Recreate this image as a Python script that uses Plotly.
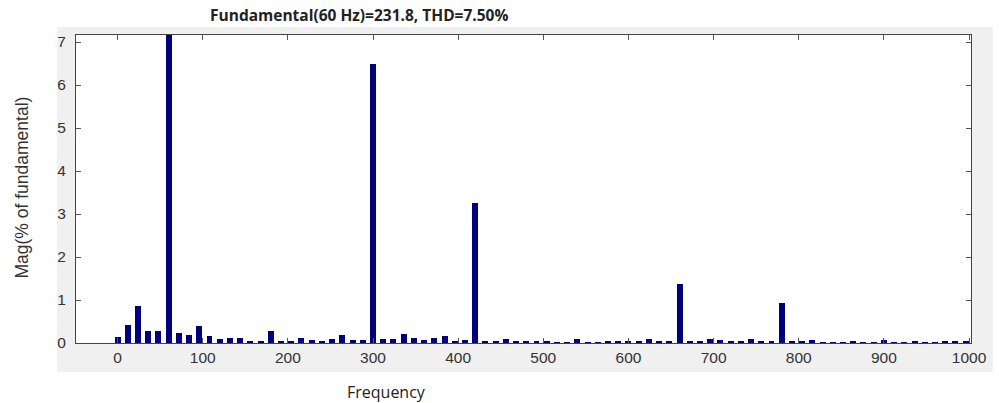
import plotly.graph_objects as go

freq_hz = [0, 12, 24, 36, 48, 60, 72, 84, 96, 108, 120, 132, 144, 156, 168, 180,
           192, 204, 216, 228, 240, 252, 264, 276, 288, 300, 312, 324, 336, 348,
           360, 372, 384, 396, 408, 420, 432, 444, 456, 468, 480, 492, 504, 516,
           528, 540, 552, 564, 576, 588, 600, 612, 624, 636, 648, 660, 672, 684,
           696, 708, 720, 732, 744, 756, 768, 780, 792, 804, 816, 828, 840, 852,
           864, 876, 888, 900, 912, 924, 936, 948, 960, 972, 984, 996]

mag_pct = [0.13, 0.43, 0.87, 0.27, 0.27, 100.0, 0.24, 0.19, 0.40, 0.17, 0.085, 0.12,
           0.12, 0.04, 0.03, 0.27, 0.04, 0.04, 0.12, 0.06, 0.03, 0.085, 0.18, 0.07,
           0.07, 6.50, 0.09, 0.085, 0.21, 0.12, 0.07, 0.12, 0.16, 0.05, 0.07, 3.25,
           0.05, 0.03, 0.10, 0.05, 0.03, 0.03, 0.05, 0.02, 0.02, 0.10, 0.01, 0.01,
           0.05, 0.04, 0.04, 0.05, 0.085, 0.04, 0.04, 1.38, 0.03, 0.03, 0.10, 0.07,
           0.03, 0.05, 0.10, 0.03, 0.03, 0.93, 0.03, 0.03, 0.07, 0.02, 0.02, 0.02,
           0.03, 0.02, 0.02, 0.07, 0.02, 0.02, 0.03, 0.02, 0.02, 0.03, 0.05, 0.03]

x_ticks = [0, 100, 200, 300, 400, 500, 600, 700, 800, 900, 1000]
y_ticks = [0, 1, 2, 3, 4, 5, 6, 7]

title_text = "Fundamental(60 Hz)=231.8, THD=7.50%"
x_title = "Frequency"
y_title = "Mag(% of fundamental)"

W, H = 999, 403
L, R, T, B = 76, 19, 35, 60
pw, ph = W - L - R, H - T - B

def px_to_paper_x(px):
    return (px - L) / pw

def px_to_paper_y(py):
    return (H - B - py) / ph

fig = go.Figure()
fig.add_trace(go.Bar(x=freq_hz, y=mag_pct, width=7,
                     marker=dict(color="#00007f", line=dict(width=0))))

axis_font = dict(family="Liberation Sans, Arial, sans-serif", size=15.5, color="#333333")
fig.update_layout(
    width=W, height=H,
    margin=dict(l=L, r=R, t=T, b=B, pad=0),
    paper_bgcolor="white",
    plot_bgcolor="white",
    showlegend=False,
    bargap=0,
    xaxis=dict(range=[-48.8, 1002.3], tickvals=x_ticks, ticks="inside", ticklen=5,
               tickcolor="#555555", showline=True, mirror="ticks", linecolor="#444444",
               linewidth=1, showgrid=False, zeroline=False, tickfont=axis_font),
    yaxis=dict(range=[0, 7.163], tickvals=y_ticks, ticks="inside", ticklen=5,
               tickcolor="#555555", showline=True, mirror="ticks", linecolor="#444444",
               linewidth=1, showgrid=False, zeroline=False, tickfont=axis_font,
               ticklabelstandoff=6),
    shapes=[
        dict(type="rect", xref="paper", yref="paper", layer="below",
             x0=px_to_paper_x(57), x1=px_to_paper_x(1002),
             y0=px_to_paper_y(372), y1=px_to_paper_y(27),
             fillcolor="#f0f0f0", line=dict(width=0)),
        dict(type="rect", xref="paper", yref="paper", layer="below",
             x0=0, x1=1, y0=0, y1=1, fillcolor="white", line=dict(width=0)),
    ],
    annotations=[
        dict(text="<b>" + title_text + "</b>", xref="paper", yref="paper",
             x=px_to_paper_x(362), y=px_to_paper_y(15), showarrow=False,
             xanchor="center", yanchor="middle",
             font=dict(family="Open Sans, sans-serif", size=15.5, color="#222222")),
        dict(text=x_title, xref="paper", yref="paper",
             x=px_to_paper_x(390), y=px_to_paper_y(392), showarrow=False,
             xanchor="center", yanchor="middle",
             font=dict(family="Open Sans, sans-serif", size=16, color="#222222")),
        dict(text=y_title, xref="paper", yref="paper", textangle=-90,
             x=px_to_paper_x(21), y=px_to_paper_y(188), showarrow=False,
             xanchor="center", yanchor="middle",
             font=dict(family="Liberation Sans, Arial, sans-serif", size=17.5, color="#333333")),
    ],
)

fig.write_html("out.html", config={"displayModeBar": False},
               post_script="document.body.style.margin='0px';document.body.style.overflow='hidden';")
